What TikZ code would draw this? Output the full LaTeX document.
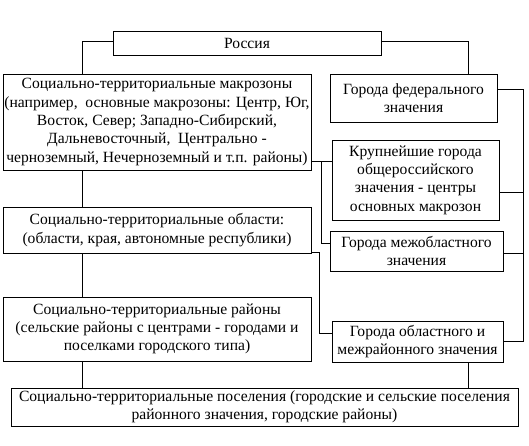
\documentclass[tikz,border=0pt]{standalone}
\usepackage{fontspec}
\setmainfont{Liberation Serif}

\begin{document}
\begin{tikzpicture}[
  x=1pt, y=-1pt,
    every node/.style={font=\fontsize{15.6}{18.3}\selectfont},
    level/.style={rectangle, draw=black, line width=0.8pt, align=center, inner sep=0pt},
    link/.style={line width=0.8pt}
]
\useasboundingbox (0,0) rectangle (529,445);

% Territorial levels (left column)
\node (russia) [level, minimum width=268pt, minimum height=24pt] at (247,43) {Россия};
\node (macro) [level, minimum width=308pt, minimum height=96pt] at (157,122) {Социально-территориальные макрозоны\\(например,\ \ основные макрозоны: Центр, Юг,\\Восток, Север; Западно-Сибирский,\\Дальневосточный,\ \ Центрально -\\черноземный, Нечерноземный и т.п. районы)};
\node (oblasti) [level, minimum width=308pt, minimum height=46pt] at (157,230) {Социально-территориальные области:\\(области, края, автономные республики)};
\node (raiony) [level, minimum width=308pt, minimum height=64pt] at (157,329) {Социально-территориальные районы\\(сельские районы с центрами - городами и\\поселками городского типа)};
\node (posel) [level, minimum width=507pt, minimum height=38pt] at (264.5,407) {Социально-территориальные поселения (городские и сельские поселения\\районного значения, городские районы)};

% Cities (right column)
\node (federal) [level, minimum width=167pt, minimum height=48pt] at (413.5,98) {Города федерального\\значения};
\node (krup) [level, minimum width=167pt, minimum height=80pt] at (415.5,180) {Крупнейшие города\\общероссийского\\значения - центры\\основных макрозон};
\node (mezhobl) [level, minimum width=173pt, minimum height=40pt] at (416.5,251) {Города межобластного\\значения};
\node (oblgorod) [level, minimum width=171pt, minimum height=41pt] at (417.5,341.5) {Города областного и\\межрайонного значения};

% Spines
\coordinate (lspine) at (82,0);
\coordinate (rspine) at (468,0);
\coordinate (bus) at (523,0);
\coordinate (j1) at ([xshift=10pt,yshift=-39pt]macro.east);
\coordinate (j2) at ([xshift=8pt,yshift=-22pt]oblasti.east);
\coordinate (kr) at ([yshift=-12pt]krup.east);
\coordinate (mz) at ([yshift=-2pt]mezhobl.east);

% Lines - left column
\draw [link] ([yshift=2pt]russia.west) -| (lspine |- macro.north);
\draw [link] (lspine |- macro.south) -- (lspine |- oblasti.north);
\draw [link] (lspine |- oblasti.south) -- (lspine |- raiony.north);
\draw [link] (lspine |- raiony.south) -- (lspine |- posel.north);

% Lines - right column
\draw [link] ([yshift=2pt]russia.east) -| (rspine |- federal.north);
\draw [link] (rspine |- oblgorod.south) -- (rspine |- posel.north);
\draw [link] ([yshift=-39pt]macro.east) -- (j1 -| krup.west);
\draw [link] (j1) |- ([yshift=8pt]mezhobl.west);
\draw [link] ([yshift=-22pt]oblasti.east) -- (j2) |- ([yshift=8pt]oblgorod.west);

% Bracket of cities
\draw [link] ([yshift=9pt]federal.east) -| (bus |- oblgorod.east) -- (oblgorod.east);
\draw [link] (kr) -- (kr -| bus);
\draw [link] (mz) -- (mz -| bus);

\end{tikzpicture}
\end{document}
